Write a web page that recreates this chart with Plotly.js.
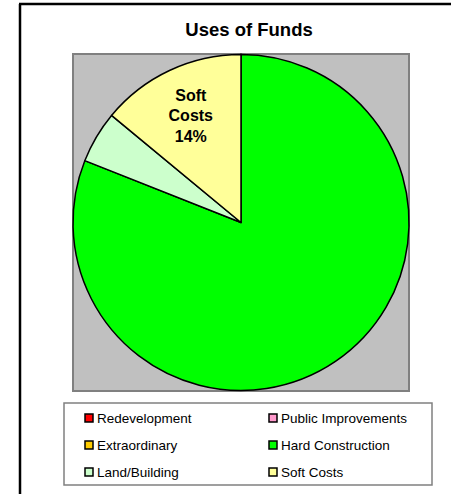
<!DOCTYPE html>
<html>
<head>
<meta charset="utf-8">
<script src="https://cdn.plot.ly/plotly-3.0.1.min.js"></script>
<style>html,body{margin:0;padding:0;background:#fff;}#chart{width:451px;height:494px;}</style>
</head>
<body>
<div id="chart"></div>
<script>
// ---- data ----
const categories = ["Redevelopment", "Public Improvements", "Extraordinary", "Hard Construction", "Land/Building", "Soft Costs"];
const shares = [0, 0, 0, 81, 5, 14];
const sliceColors = ["#FF0000", "#FF99CC", "#FFCC00", "#00FF00", "#CCFFCC", "#FFFF99"];
const labeledSlices = ["Soft Costs"];
const chartTitle = "Uses of Funds";

// ---- helpers (pixel -> paper) ----
const W = 451, H = 494;
const px = p => p / W;
const py = p => 1 - p / H;

const total = shares.reduce((a, b) => a + b, 0);
const sliceText = categories.map((c, i) =>
  labeledSlices.includes(c) ? c.replace(" ", "<br>") + "<br>" + Math.round(shares[i] / total * 100) + "%" : "");

const FONT = "Arial, 'Liberation Sans', sans-serif";

const trace = {
  type: "pie",
  labels: categories,
  values: shares,
  text: sliceText,
  textinfo: "text",
  textposition: "inside",
  insidetextorientation: "horizontal",
  insidetextfont: {family: FONT, size: 16, color: "#000", weight: "bold"},
  sort: false,
  direction: "clockwise",
  rotation: 0,
  marker: {colors: sliceColors, line: {color: "#000", width: 1.5}},
  domain: {x: [px(73), px(409)], y: [py(391), py(54)]},
  showlegend: false,
  hoverinfo: "label+percent"
};

// plot area + frame
const shapes = [
  {type: "rect", xref: "paper", yref: "paper", x0: px(73), x1: px(409), y0: py(391), y1: py(54),
   fillcolor: "#C0C0C0", line: {color: "#808080", width: 2}, layer: "below"},
  {type: "line", xref: "paper", yref: "paper", x0: px(20), x1: px(20), y0: py(4), y1: py(500),
   line: {color: "#000", width: 2.5}},
  {type: "line", xref: "paper", yref: "paper", x0: px(19), x1: px(460), y0: py(4), y1: py(4),
   line: {color: "#000", width: 2.5}},
  // legend box
  {type: "rect", xref: "paper", yref: "paper", x0: px(64), x1: px(432), y0: py(485), y1: py(403),
   fillcolor: "#FFFFFF", line: {color: "#808080", width: 1.5}}
];

const annotations = [];
const colX = [85, 269];
const rowY = [418, 445, 472];
categories.forEach((c, i) => {
  const col = i % 2, row = Math.floor(i / 2);
  const mx = colX[col], my = rowY[row];
  shapes.push({type: "rect", xref: "paper", yref: "paper",
    x0: px(mx), x1: px(mx + 8), y0: py(my + 4), y1: py(my - 4),
    fillcolor: sliceColors[i], line: {color: "#000", width: 1.5}});
  annotations.push({xref: "paper", yref: "paper", x: px(mx + 10), y: py(my),
    xanchor: "left", yanchor: "middle", text: c, showarrow: false,
    font: {family: FONT, size: 13.5, color: "#000"}});
});

const layout = {
  width: W, height: H,
  margin: {l: 0, r: 0, t: 0, b: 0},
  paper_bgcolor: "#FFFFFF",
  title: {text: chartTitle, font: {family: FONT, size: 18.5, color: "#000", weight: "bold"},
          xref: "paper", x: px(249), xanchor: "center", yref: "paper", y: py(30), yanchor: "middle"},
  shapes: shapes,
  annotations: annotations,
  showlegend: false
};

Plotly.newPlot("chart", [trace], layout, {displayModeBar: false, staticPlot: true});
</script>
</body>
</html>
